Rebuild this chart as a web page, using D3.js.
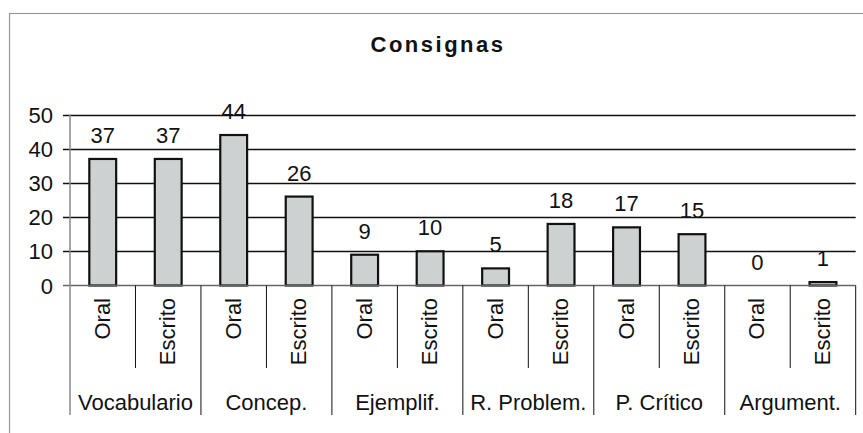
<!DOCTYPE html>
<html>
<head>
<meta charset="UTF-8">
<title>Consignas</title>
<script src="https://d3js.org/d3.v7.min.js"></script>
<style>
  body { margin: 0; background: #fff; }
  svg text { font-family: "Liberation Sans", Arial, sans-serif; fill: #111; font-size: 22px; }
</style>
</head>
<body>
<div id="chart"></div>
<script>
const groups = ['Vocabulario', 'Concep.', 'Ejemplif.', 'R. Problem.', 'P. Crítico', 'Argument.'];
const modes = ['Oral', 'Escrito'];
const oral = [37, 44, 9, 5, 17, 0];
const escrito = [37, 26, 10, 18, 15, 1];
const yTicks = [0, 10, 20, 30, 40, 50];

const rows = [];
groups.forEach((g, i) => {
  rows.push({ key: g + '|Oral', group: g, mode: modes[0], value: oral[i] });
  rows.push({ key: g + '|Escrito', group: g, mode: modes[1], value: escrito[i] });
});

const W = 863, H = 433;
const plotL = 70, plotR = 855.7, plotT = 114.5, plotB = 285.5;

const svg = d3.select('#chart').append('svg')
  .attr('width', W)
  .attr('height', H);

// outer chart border (runs off the picture at right and bottom)
svg.append('rect')
  .attr('x', 9.5).attr('y', 13.5)
  .attr('width', 900).attr('height', 500)
  .attr('fill', 'none')
  .attr('stroke', '#999')
  .attr('stroke-width', 1.2);

svg.append('text')
  .attr('x', 438).attr('y', 52)
  .attr('text-anchor', 'middle')
  .style('font-size', '22px')
  .style('font-weight', 'bold')
  .style('letter-spacing', '2.5px')
  .text('Consignas');

const x = d3.scaleBand()
  .domain(rows.map(d => d.key))
  .range([plotL, plotR])
  .padding(0);

const xg = d3.scaleBand()
  .domain(groups)
  .range([plotL, plotR])
  .padding(0);

const y = d3.scaleLinear()
  .domain([0, 50])
  .range([plotB, plotT]);

// gridlines + tick marks
svg.append('g')
  .selectAll('line')
  .data(yTicks.slice(1))
  .enter().append('line')
  .attr('x1', plotL - 7).attr('x2', plotR)
  .attr('y1', d => Math.round(y(d)) + 0.5)
  .attr('y2', d => Math.round(y(d)) + 0.5)
  .attr('stroke', '#111')
  .attr('stroke-width', 1.3);

svg.append('g')
  .selectAll('text')
  .data(yTicks)
  .enter().append('text')
  .attr('x', 53)
  .attr('y', d => y(d) + 8)
  .attr('text-anchor', 'end')
  .text(d => d);

// bars
const barW = x.bandwidth() * 0.41;
svg.append('g')
  .selectAll('rect')
  .data(rows)
  .enter().append('rect')
  .attr('x', d => x(d.key) + (x.bandwidth() - barW) / 2)
  .attr('y', d => y(d.value))
  .attr('width', barW)
  .attr('height', d => y(0) - y(d.value))
  .attr('fill', '#cdd1d1')
  .attr('stroke', '#111')
  .attr('stroke-width', 2.2);

// value labels
svg.append('g')
  .selectAll('text')
  .data(rows)
  .enter().append('text')
  .attr('x', d => x(d.key) + x.bandwidth() / 2)
  .attr('y', d => y(d.value) - 16)
  .attr('text-anchor', 'middle')
  .text(d => d.value);

// axes
svg.append('line')
  .attr('x1', plotL - 7).attr('x2', plotR)
  .attr('y1', plotB).attr('y2', plotB)
  .attr('stroke', '#666')
  .attr('stroke-width', 1.5);

svg.append('line')
  .attr('x1', plotL).attr('x2', plotL)
  .attr('y1', plotT).attr('y2', 415)
  .attr('stroke', '#888')
  .attr('stroke-width', 1.5);

// separators under the axis
const inner = groups.map(g => xg(g) + xg.bandwidth() / 2);
svg.append('g')
  .selectAll('line')
  .data(inner)
  .enter().append('line')
  .attr('x1', d => d).attr('x2', d => d)
  .attr('y1', plotB).attr('y2', 368)
  .attr('stroke', '#111')
  .attr('stroke-width', 1);

const outer = groups.map(g => xg(g) + xg.bandwidth());
svg.append('g')
  .selectAll('line')
  .data(outer)
  .enter().append('line')
  .attr('x1', d => d).attr('x2', d => d)
  .attr('y1', plotB).attr('y2', 415)
  .attr('stroke', '#111')
  .attr('stroke-width', 1);

// rotated mode labels
svg.append('g')
  .selectAll('text')
  .data(rows)
  .enter().append('text')
  .attr('transform', d => `translate(${x(d.key) + x.bandwidth() / 2 + 7}, 298) rotate(-90)`)
  .attr('text-anchor', 'end')
  .text(d => d.mode);

// group labels
svg.append('g')
  .selectAll('text')
  .data(groups)
  .enter().append('text')
  .attr('x', d => xg(d) + xg.bandwidth() / 2)
  .attr('y', 410)
  .attr('text-anchor', 'middle')
  .text(d => d);
</script>
</body>
</html>
